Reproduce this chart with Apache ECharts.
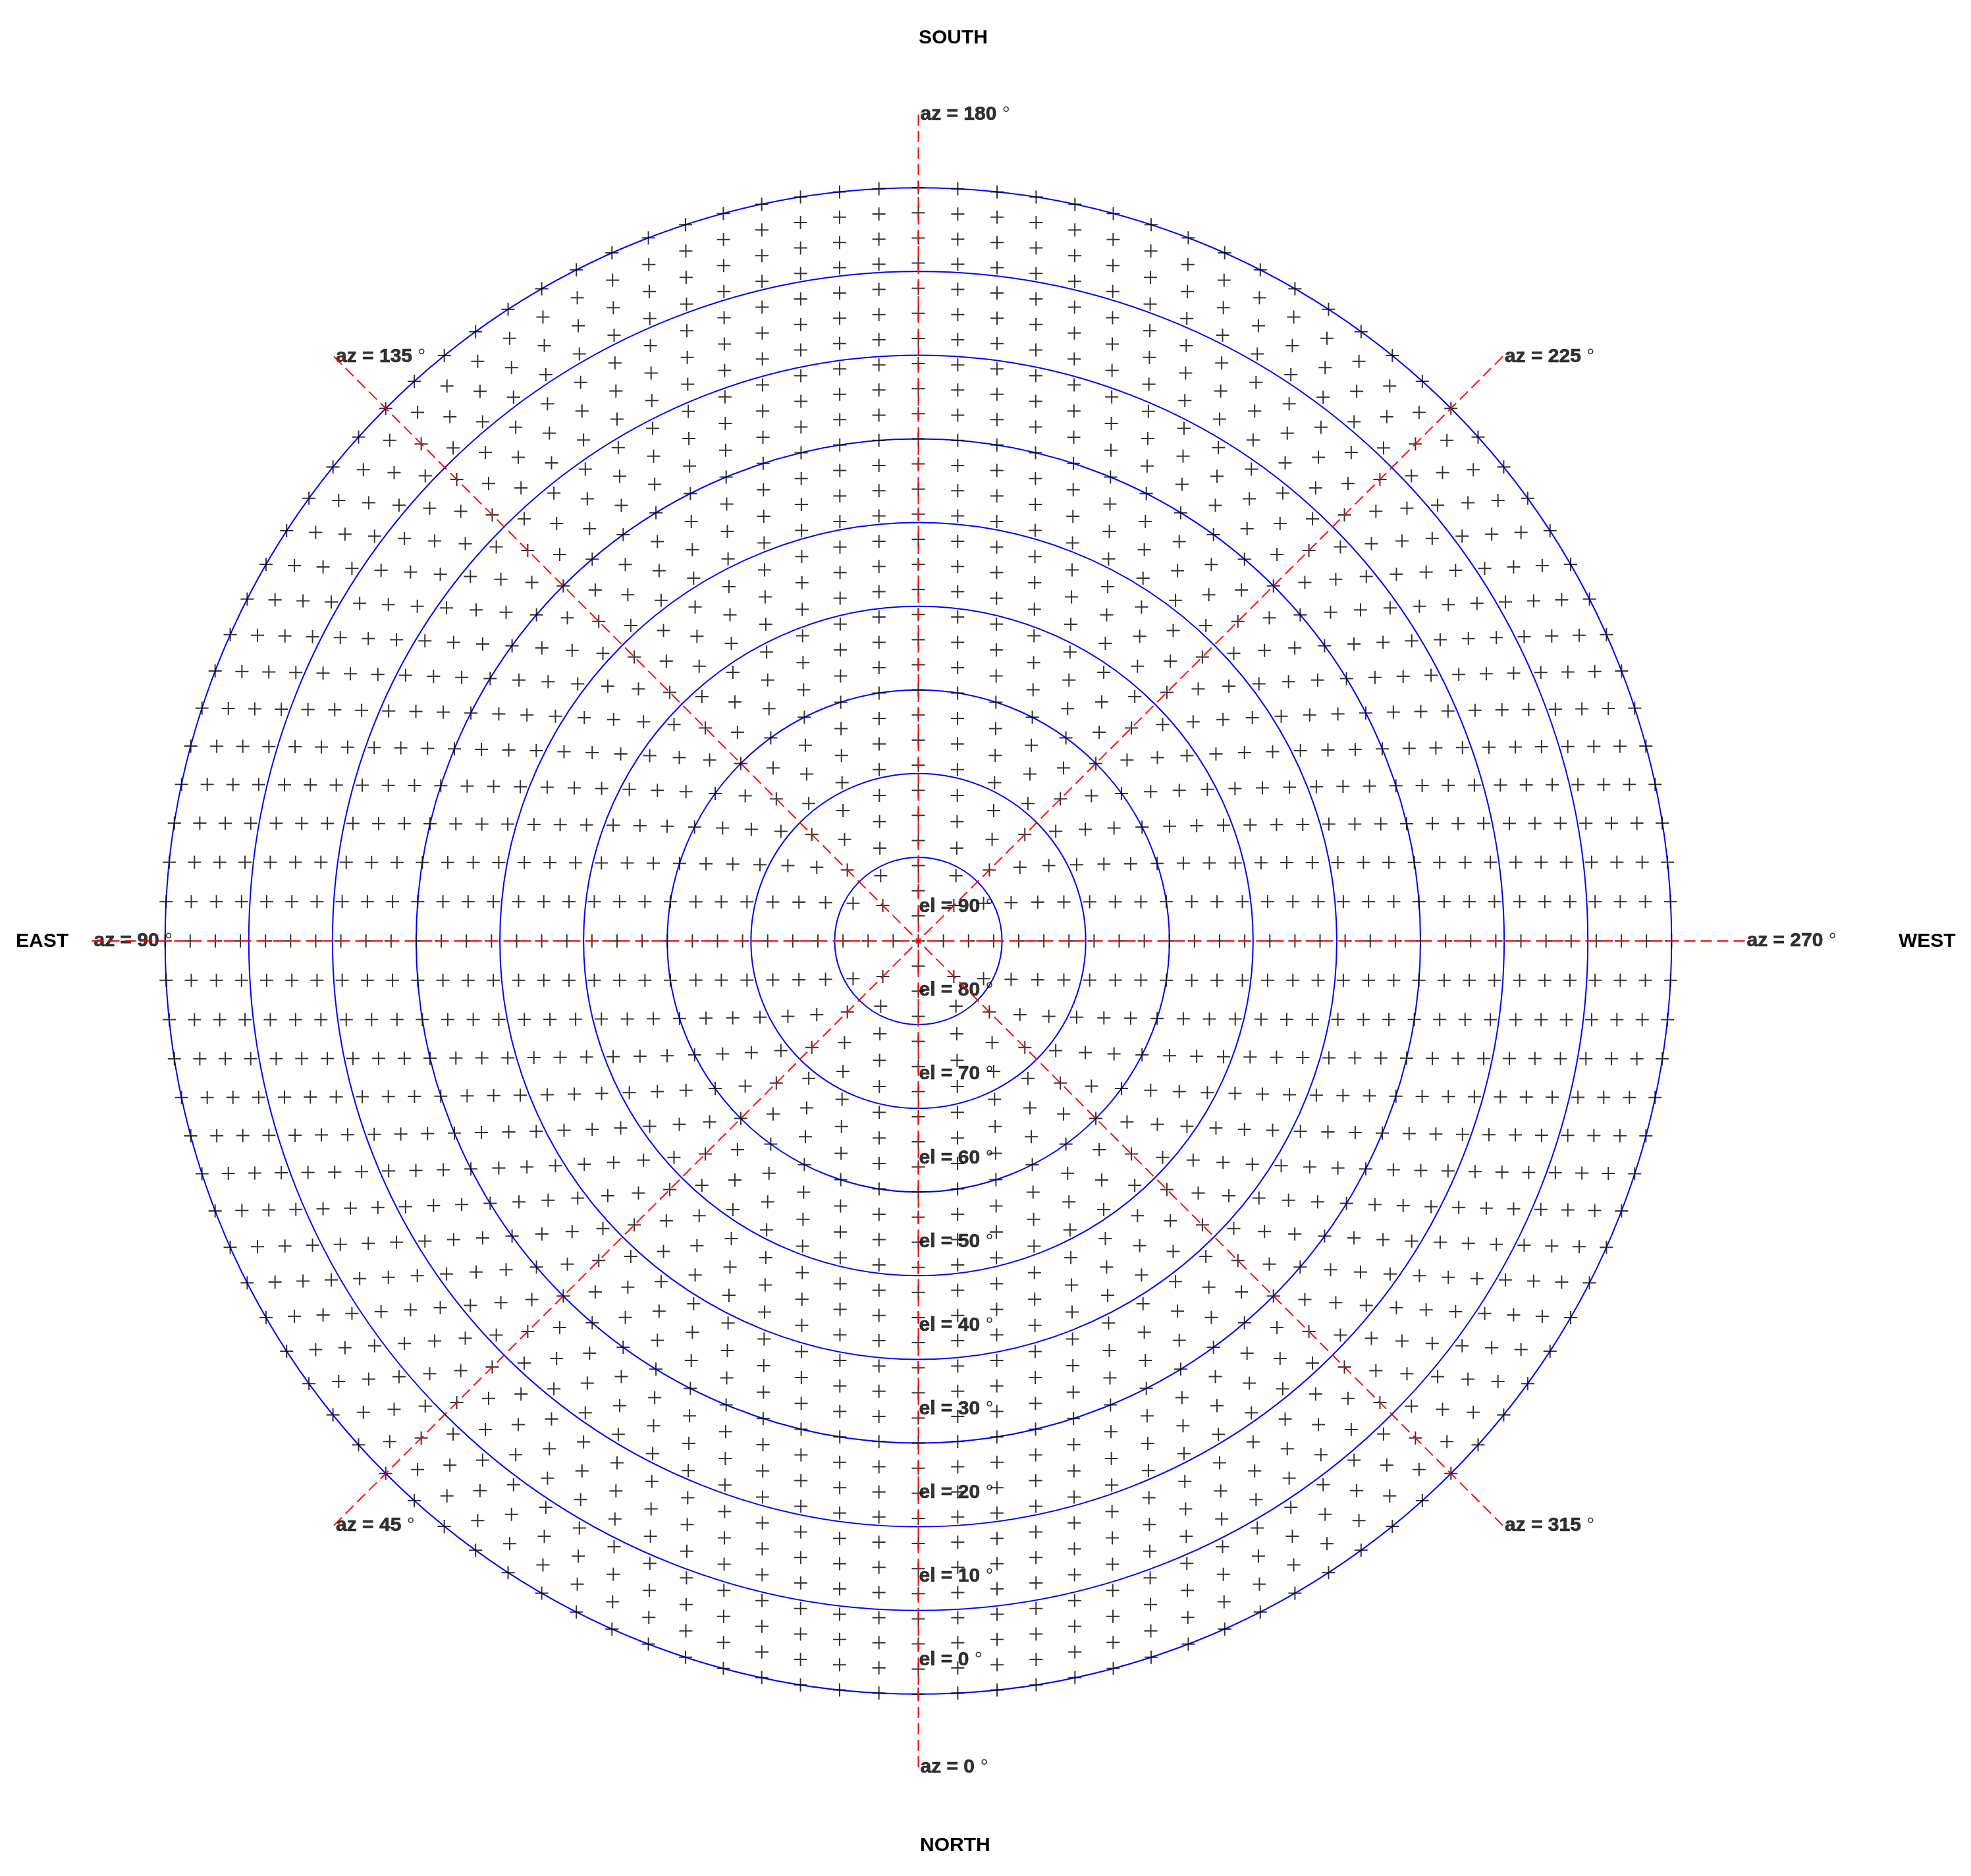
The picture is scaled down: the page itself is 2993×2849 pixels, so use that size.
<!DOCTYPE html>
<html>
<head>
<meta charset="utf-8">
<script src="https://cdn.jsdelivr.net/npm/echarts@6/dist/echarts.min.js"></script>
<style>
html, body { margin: 0; padding: 0; background: #fff; }
#skyplot { width: 2993px; height: 2849px; }
</style>
</head>
<body>
<div id="skyplot"></div>
<script>
// grid rings: elevation of each ring and number of points on it (from zenith out)
var ringEl = [90, 87, 84, 81, 78, 75, 72, 69, 66, 63, 60, 57, 54, 51, 48, 45,
              42, 39, 36, 33, 30, 27, 24, 21, 18, 15, 12, 9, 6, 3, 0];
var ringCount = [1, 4, 8, 12, 16, 20, 24, 28, 32, 36, 40, 44, 48, 52, 56, 60,
                 64, 68, 72, 76, 80, 84, 88, 92, 96, 100, 104, 108, 112, 116, 120];
var azLines = [0, 45, 90, 135, 180, 225, 270, 315];   // red dashed azimuth lines
var elLabels = [90, 80, 70, 60, 50, 40, 30, 20, 10, 0];
var elOuter = -8.75;   // where the azimuth lines stop

var skyChart = echarts.init(document.getElementById('skyplot'));
var FONT = 'Liberation Sans';

// points of the grid
var gridPts = [];
for (var i = 0; i < ringEl.length; i++) {
    for (var j = 0; j < ringCount[i]; j++) {
        gridPts.push([ringEl[i], j * 360 / ringCount[i]]);
    }
}

var azPts = [];
for (var i = 0; i < azLines.length; i++) azPts.push([elOuter, azLines[i]]);
var elPts = [];
for (var i = 0; i < elLabels.length; i++) elPts.push([elLabels[i], 0]);

// first split line is the outer edge (elOuter), keep it invisible
var ringColors = ['rgba(0,0,0,0)'];
for (var i = 0; i < 10; i++) ringColors.push('#0000ff');

var lblStyle = {
    show: true,
    position: 'right',
    color: '#000',
    fontFamily: FONT,
    fontSize: 30,
    fontWeight: 'bold',
    textBorderColor: '#000',
    textBorderWidth: 0.7,
    rich: {
        d: { fontFamily: FONT, fontSize: 30, fontWeight: 'normal', color: '#000', textBorderWidth: 0 }
    }
};

function dirText(txt, x, y) {
    return {
        type: 'text', x: x, y: y, silent: true,
        style: { text: txt, fill: '#000', font: 'bold 30px ' + FONT, verticalAlign: 'middle', align: 'left' }
    };
}

var option = {
    animation: false,
    backgroundColor: '#fff',
    polar: { center: [1394.5, 1429], radius: 1255 },
    angleAxis: {
        type: 'value',
        min: 0,
        max: 360,
        interval: 45,
        startAngle: 270,
        clockwise: true,
        z: 10,
        axisLine: { show: false },
        axisTick: { show: false },
        axisLabel: { show: false },
        splitLine: { show: true, lineStyle: { color: '#ff0000', width: 2, type: [17, 8] } }
    },
    radiusAxis: {
        type: 'value',
        min: elOuter,
        max: 90,
        splitNumber: 10,
        inverse: true,
        axisLine: { show: false },
        axisTick: { show: false },
        axisLabel: { show: false },
        splitLine: { show: true, lineStyle: { color: ringColors, width: 2 } }
    },
    graphic: [
        dirText('SOUTH', 1395, 58),
        dirText('NORTH', 1397, 2803),
        dirText('EAST', 24, 1430),
        dirText('WEST', 2883, 1430)
    ],
    series: [
        {
            name: 'grid',
            type: 'scatter',
            coordinateSystem: 'polar',
            symbol: 'path://M0,10L20,10M10,0L10,20',
            symbolSize: 20,
            large: false,
            silent: true,
            itemStyle: { color: 'rgba(0,0,0,0)', borderColor: '#000', borderWidth: 2 },
            data: gridPts
        },
        {
            name: 'azLabel',
            type: 'scatter',
            coordinateSystem: 'polar',
            symbolSize: 0,
            silent: true,
            label: Object.assign({}, lblStyle, {
                distance: 3,
                formatter: function (p) { return 'az = ' + p.value[1] + ' {d|°}'; }
            }),
            data: azPts
        },
        {
            name: 'elLabel',
            type: 'scatter',
            coordinateSystem: 'polar',
            symbolSize: 0,
            silent: true,
            label: Object.assign({}, lblStyle, {
                distance: 1,
                offset: [0, -52],
                formatter: function (p) { return 'el = ' + p.value[0] + ' {d|°}'; }
            }),
            data: elPts
        }
    ]
};

skyChart.setOption(option, true);
</script>
</body>
</html>
